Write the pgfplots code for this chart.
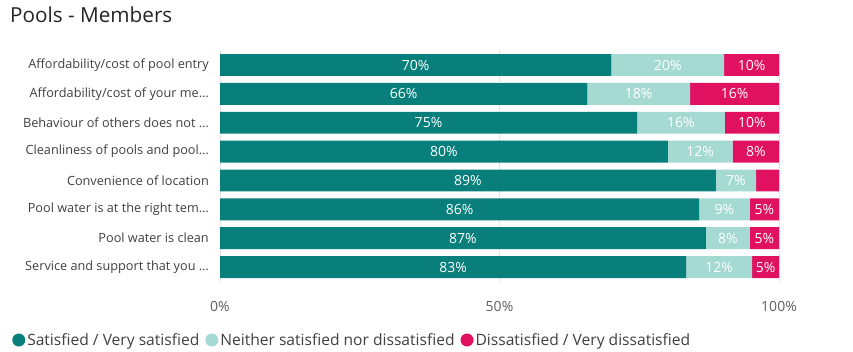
\documentclass[border=0pt]{standalone}
\usepackage{fontspec}
\setmainfont{Open Sans}
\usepackage{pgfplots}
\usepackage{pgfplotstable}
\pgfplotsset{compat=1.18}
\definecolor{cSat}{HTML}{087F7B}
\definecolor{cNeu}{HTML}{A5DAD2}
\definecolor{cDis}{HTML}{E0115F}
\definecolor{cTitle}{HTML}{252423}
\definecolor{cLab}{HTML}{404040}
\definecolor{cTick}{HTML}{605E5C}
\pgfplotsset{dotlegend/.style={legend image code/.code={\fill[##1] (0pt,0pt) circle (6.5pt);}}}

\pgfplotstableread[col sep=comma]{
idx,sat,neu,dis,lsat,lneu,ldis
0,70.0,20.2,9.8,70\%,20\%,10\%
1,65.7,18.4,15.9,66\%,18\%,16\%
2,74.6,15.7,9.7,75\%,16\%,10\%
3,80.1,11.6,8.3,80\%,12\%,8\%
4,88.7,7.2,4.1,89\%,7\%,{}
5,85.7,9.1,5.2,86\%,9\%,5\%
6,86.9,7.9,5.2,87\%,8\%,5\%
7,83.4,11.8,4.8,83\%,12\%,5\%
}\data

\begin{document}
\begin{tikzpicture}
\useasboundingbox (0pt,0pt) rectangle (853pt,352pt);
\node[anchor=base west, inner sep=0pt, text=cTitle, font=\fontsize{20.7}{24}\selectfont] at (10pt,329pt) {Pools - Members};
\begin{axis}[
  at={(220pt,70.5pt)}, anchor=south west,
  scale only axis, width=559pt, height=230.9pt,
  xbar stacked, bar width=0.76,
  xmin=0, xmax=100, ymin=-0.5, ymax=7.5, y dir=reverse,
  xtick={0,50,100}, xticklabels={0\%,50\%,100\%},
  ytick={0,...,7},
  yticklabels={Affordability/cost of pool entry,Affordability/cost of your me…,Behaviour of others does not …,Cleanliness of pools and pool…,Convenience of location,Pool water is at the right tem…,Pool water is clean,Service and support that you …},
  axis line style={draw=none}, major tick length=0pt,
  xmajorgrids, grid style={densely dotted, black!15},
  xticklabel style={font=\fontsize{14}{16}\selectfont, text=cTick, anchor=center, yshift=-25pt},
  yticklabel style={font=\fontsize{12.7}{15}\selectfont, text=cLab, anchor=east, inner sep=0pt, xshift=-11pt},
  point meta=explicit symbolic,
  nodes near coords={\pgfplotspointmeta},
  every node near coord/.append style={font=\fontsize{14}{16}\selectfont, text=white},
  every axis plot post/.append style={dotlegend},
  legend columns=3,
  legend style={at={(-0.372,-0.2534)}, anchor=west, draw=none, fill=none, font=\fontsize{15.6}{18}\selectfont, text=cLab, inner sep=0pt, /tikz/every even column/.append style={column sep=4pt}},
  legend cell align=left,
]
\addplot[fill=cSat, draw=none] table[x=sat, y=idx, meta=lsat] {\data};
\addplot[fill=cNeu, draw=none] table[x=neu, y=idx, meta=lneu] {\data};
\addplot[fill=cDis, draw=none] table[x=dis, y=idx, meta=ldis] {\data};
\legend{Satisfied / Very satisfied, Neither satisfied nor dissatisfied, Dissatisfied / Very dissatisfied}
\end{axis}
\end{tikzpicture}
\end{document}
